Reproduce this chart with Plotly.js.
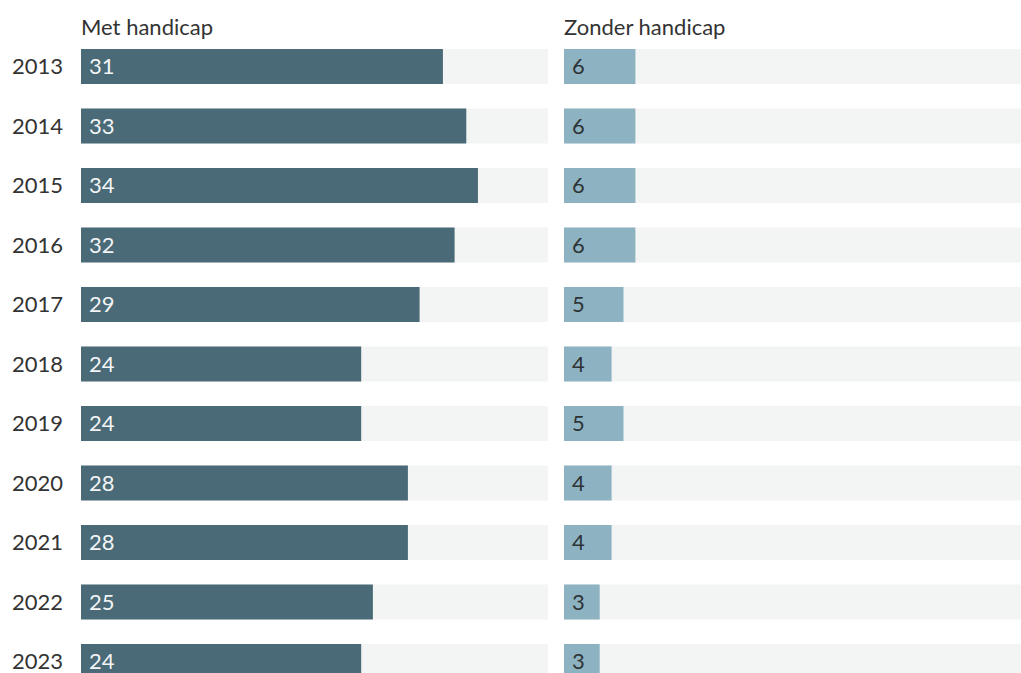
<!DOCTYPE html>
<html>
<head>
<meta charset="utf-8">
<script src="https://cdn.plot.ly/plotly-3.0.1.min.js"></script>
<style>html,body{margin:0;padding:0;background:#fff;overflow:hidden}#chart{width:1021px;height:673px}</style>
</head>
<body>
<div id="chart"></div>
<script>
const years = [2013, 2014, 2015, 2016, 2017, 2018, 2019, 2020, 2021, 2022, 2023];
const metHandicap = [31, 33, 34, 32, 29, 24, 24, 28, 28, 25, 24];
const zonderHandicap = [6, 6, 6, 6, 5, 4, 5, 4, 4, 3, 3];
const panelTitles = ["Met handicap", "Zonder handicap"];
const scaleMax = 40;

const FONT = "Lato, 'Noto Sans', sans-serif";
const FS = 22;
const DARK = "#496a76";
const LIGHT = "#8db3c3";
const BG = "#f3f4f4";
const BAR_W = 0.588;

const bgVals = years.map(() => scaleMax);

const traces = [
  {type: 'bar', orientation: 'h', y: years, x: bgVals, xaxis: 'x', yaxis: 'y',
   marker: {color: BG}, width: BAR_W, hoverinfo: 'skip', showlegend: false},
  {type: 'bar', orientation: 'h', y: years, x: metHandicap, xaxis: 'x', yaxis: 'y',
   marker: {color: DARK}, width: BAR_W, hoverinfo: 'skip', showlegend: false},
  {type: 'bar', orientation: 'h', y: years, x: bgVals, xaxis: 'x2', yaxis: 'y',
   marker: {color: BG}, width: BAR_W, hoverinfo: 'skip', showlegend: false},
  {type: 'bar', orientation: 'h', y: years, x: zonderHandicap, xaxis: 'x2', yaxis: 'y',
   marker: {color: LIGHT}, width: BAR_W, hoverinfo: 'skip', showlegend: false}
];

const annotations = [];
years.forEach((yr, i) => {
  annotations.push({xref: 'x domain', yref: 'y', x: 0, y: yr, text: String(yr),
    xanchor: 'right', yanchor: 'middle', xshift: -16, yshift: 1, showarrow: false,
    font: {family: FONT, size: FS, color: '#333'}});
  annotations.push({xref: 'x', yref: 'y', x: 0, y: yr, text: String(metHandicap[i]),
    xanchor: 'left', yanchor: 'middle', xshift: 6, yshift: 1, showarrow: false,
    font: {family: FONT, size: FS, color: '#f2f4f5'}});
  annotations.push({xref: 'x2', yref: 'y', x: 0, y: yr, text: String(zonderHandicap[i]),
    xanchor: 'left', yanchor: 'middle', xshift: 6, yshift: 1, showarrow: false,
    font: {family: FONT, size: FS, color: '#2e3436'}});
});
annotations.push({xref: 'x domain', yref: 'paper', x: 0, y: 1 - 27/673, text: panelTitles[0],
  xanchor: 'left', yanchor: 'middle', xshift: -2, showarrow: false, font: {family: FONT, size: FS, color: '#333'}});
annotations.push({xref: 'x2 domain', yref: 'paper', x: 0, y: 1 - 27/673, text: panelTitles[1],
  xanchor: 'left', yanchor: 'middle', xshift: -2, showarrow: false, font: {family: FONT, size: FS, color: '#333'}});

const plotW = 1021 - 81;
const layout = {
  width: 1021, height: 673,
  margin: {l: 81, r: 0, t: 0, b: 0, pad: 0},
  paper_bgcolor: '#fff', plot_bgcolor: 'rgba(0,0,0,0)',
  barmode: 'overlay',
  font: {family: FONT, size: FS, color: '#333'},
  xaxis: {domain: [0, 467/plotW], range: [0, scaleMax], visible: false, fixedrange: true},
  xaxis2: {domain: [483/plotW, 1], range: [0, 457/11.9], visible: false, fixedrange: true},
  yaxis: {range: [2023 + (673-66.5)/59.5 - 10, 2013 - 66.5/59.5],
    showticklabels: false, ticks: '', showgrid: false, zeroline: false, showline: false,
    automargin: false, fixedrange: true},
  annotations: annotations,
  showlegend: false
};

Plotly.newPlot('chart', traces, layout, {displayModeBar: false, staticPlot: true});
</script>
</body>
</html>
